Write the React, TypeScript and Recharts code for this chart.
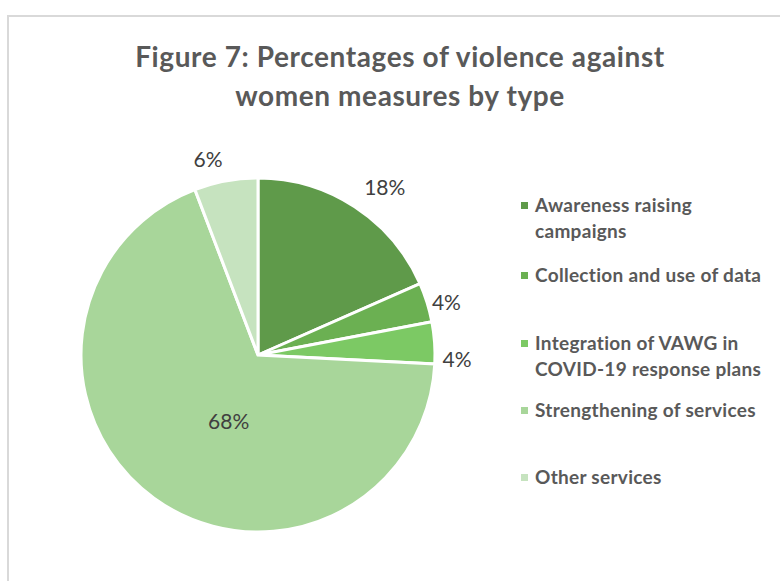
import React from "react";
import { PieChart, Pie, Cell, Legend } from "recharts";

// measure types, in legend order
const categories = [
  "Awareness raising campaigns",
  "Collection and use of data",
  "Integration of VAWG in COVID-19 response plans",
  "Strengthening of services",
  "Other services",
];

// share of measures (%)
const shares = [18.4, 3.6, 3.8, 68.4, 5.8];

const colors = ["#5f9a4a", "#6bb052", "#7cc964", "#a8d69a", "#c6e3bf"];

// where each data label sits: distance from the centre and a small
// clockwise nudge (degrees) away from the slice's mid angle
const labelRadius = [211, 196, 199, 72, 203];
const labelNudge = [3.8, 1.3, 5, -12, -3.8];
// vertical position of each legend entry
const legendTops = [0, 70, 138, 205, 272];
// legend labels broken onto lines like the original
const legendLines = [
  ["Awareness raising", "campaigns"],
  ["Collection and use of data"],
  ["Integration of VAWG in", "COVID-19 response plans"],
  ["Strengthening of services"],
  ["Other services"],
];

const data = categories.map((name, i) => ({ name, value: shares[i] }));

const FONT = "Lato, 'Open Sans', sans-serif";
const RAD = Math.PI / 180;

const renderLabel = (props: any) => {
  const { cx, cy, midAngle, percent, index } = props;
  const r = labelRadius[index];
  const a = (midAngle - labelNudge[index]) * RAD;
  const x = cx + r * Math.cos(-a);
  const y = cy + r * Math.sin(-a);
  return (
    <text
      x={x}
      y={y}
      fill="#404040"
      fontSize={21}
      fontFamily={FONT}
      textAnchor="middle"
      dominantBaseline="central"
    >
      {`${Math.round(percent * 100)}%`}
    </text>
  );
};

const renderLegend = (props: any) => {
  const { payload } = props;
  return (
    <div style={{ position: "relative", width: 260, height: 300 }}>
      {payload.map((entry: any, i: number) => (
        <div
          key={entry.value}
          style={{
            position: "absolute",
            left: 0,
            top: legendTops[i],
            display: "flex",
            alignItems: "flex-start",
          }}
        >
          <span
            style={{
              display: "inline-block",
              width: 7,
              height: 7,
              marginTop: 10,
              marginRight: 7,
              background: colors[i],
            }}
          />
          <div
            style={{
              fontFamily: FONT,
              fontWeight: 700,
              fontSize: 19,
              letterSpacing: 0.3,
              lineHeight: "26px",
              color: "#595959",
              whiteSpace: "nowrap",
            }}
          >
            {legendLines[i].map((line) => (
              <div key={line}>{line}</div>
            ))}
          </div>
        </div>
      ))}
    </div>
  );
};

export default function App() {
  return (
    <div
      style={{
        position: "absolute",
        left: 0,
        top: 0,
        width: 780,
        height: 581,
        overflow: "hidden",
        background: "#fff",
      }}
    >
      <div
        style={{
          position: "absolute",
          left: 7,
          top: 15,
          width: 820,
          height: 620,
          border: "2px solid #d9d9d9",
          boxSizing: "border-box",
        }}
      />
      <div
        style={{
          position: "absolute",
          left: 0,
          top: 37,
          width: 800,
          textAlign: "center",
          fontFamily: FONT,
          fontWeight: 700,
          fontSize: 28,
          letterSpacing: 0.6,
          lineHeight: "39px",
          color: "#595959",
        }}
      >
        <div>Figure 7: Percentages of violence against</div>
        <div>women measures by type</div>
      </div>
      <div style={{ position: "absolute", left: 0, top: 0 }}>
        <PieChart width={780} height={581} margin={{ top: 0, right: 0, bottom: 0, left: 0 }}>
          <Pie
            data={data}
            dataKey="value"
            nameKey="name"
            cx={258}
            cy={355}
            outerRadius={177}
            startAngle={90}
            endAngle={-270}
            stroke="#ffffff"
            strokeWidth={3}
            label={renderLabel}
            labelLine={false}
            isAnimationActive={false}
          >
            {data.map((d, i) => (
              <Cell key={d.name} fill={colors[i]} />
            ))}
          </Pie>
          <Legend
            layout="vertical"
            align="right"
            verticalAlign="middle"
            content={renderLegend}
            wrapperStyle={{ position: "absolute", left: 521, top: 192, width: 260 }}
          />
        </PieChart>
      </div>
    </div>
  );
}
